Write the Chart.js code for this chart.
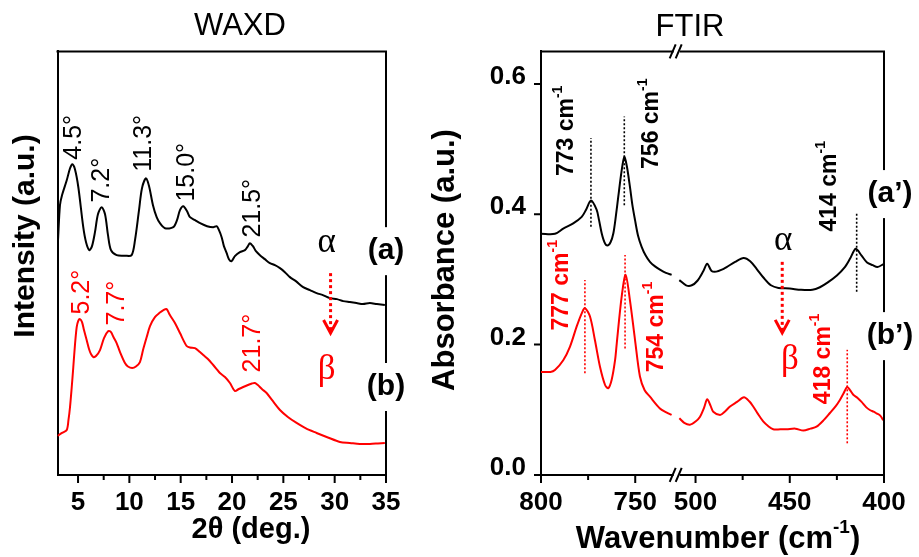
<!DOCTYPE html>
<html><head><meta charset="utf-8">
<script src="https://cdn.jsdelivr.net/npm/chart.js@4.4.0/dist/chart.umd.min.js"></script>
<style>
html,body{margin:0;padding:0;background:#fff;width:919px;height:557px;overflow:hidden}
#cL{position:absolute;left:0;top:0}
#cR{position:absolute;left:415px;top:0}
</style></head><body>
<canvas id="cL" width="470" height="557"></canvas>
<canvas id="cR" width="504" height="557"></canvas>
<script>
// ---------------- WAXD data ----------------
const waxdAngleA = [3.05,3.24,3.44,3.90,4.22,4.44,4.70,5.03,5.51,5.78,6.10,6.36,6.65,6.94,7.30,7.63,7.92,8.21,8.76,9.57,10.22,10.55,10.94,11.23,11.62,11.92,12.30,12.66,12.98,13.47,14.28,14.64,14.93,15.25,15.62,15.91,16.40,16.89,17.57,18.17,18.50,18.73,18.99,19.21,19.48,19.70,19.96,20.28,20.77,21.26,21.55,21.74,22.04,22.33,22.72,23.20,23.69,24.18,24.67,25.15,25.64,26.22,26.93,27.59,28.24,28.85,29.54,30.22,30.83,31.48,32.13,32.75,33.43,34.11,34.89];
const waxdIntA = [235,270,280,295,307,311,306,288,248,233,225,229,243,261,268,261,240,225,220,219.5,220,235,265,287,297,289,270,258,252,247,248,255,265,269,264,258,255,252,249,248,249,245,238,229,222,216,214,219,223,225,229,232,229,224,220,216,212,210,207,203,198,194,188,185,182,180,177,176,174,173,172,171,172,171,170];
const waxdAngleB = [3.00,3.44,3.90,4.07,4.22,4.38,4.54,4.70,4.87,5.03,5.19,5.39,5.58,5.84,6.07,6.26,6.49,6.75,7.14,7.53,7.95,8.21,8.45,8.76,9.09,9.57,9.86,10.28,10.64,11.03,11.33,11.69,12.01,12.49,12.98,13.32,13.63,13.95,14.44,14.93,15.58,15.90,16.39,16.88,17.20,17.65,18.17,18.50,18.82,19.31,19.80,20.28,20.67,21.09,21.55,21.94,22.23,22.52,22.91,23.37,23.89,24.67,25.44,26.29,27.20,28.24,29.34,30.51,31.48,32.45,33.43,34.21,34.89];
const waxdIntB = [39,42,45,55,68,87,108,130,148,154.5,156,153,145,135,126,121,118,119,125,137,144,143,138,132,123,112,108.5,107,108.5,113,125,138,149,158,162.5,165,166,160,152,142,129,127.5,127,123,120,116,110,106,102,98,92,84,86,88,90,91.5,92,90,86,82,75,65,58,52,46.5,42,37.5,33,32,31,31,31.5,32];
const waxdXTicks = [5,10,15,20,25,30,35];
const waxdXMinor = [7.5,12.5,17.5,22.5,27.5,32.5];
const waxdPeakTextA = ['4.5°','7.2°','11.3°','15.0°','21.5°'];
const waxdPeakAtA = [[4.64,338],[7.30,295],[11.45,332],[15.58,303],[22.07,267]];
const waxdPeakTextB = ['5.2°','7.7°','21.7°'];
const waxdPeakAtB = [[5.36,183],[8.76,172],[22.07,132]];

// ---------------- FTIR data (broken axis 800-728 | 510-400) ----------------
const ftirWaveA_hi = [800,792.6,788.2,782.9,778.4,776.1,773.5,770.5,769.2,767.8,766.3,764.8,763.1,761.6,760.2,759.0,757.3,755.8,754.4,752.8,751.5,750.1,748.5,746.6,744.6,742.2,739.5,736.9,733.7,730.7];
const ftirAbsA_hi  = [0.370,0.370,0.378,0.386,0.396,0.407,0.421,0.407,0.391,0.371,0.357,0.352,0.357,0.371,0.399,0.427,0.465,0.488,0.473,0.442,0.414,0.391,0.367,0.350,0.3375,0.327,0.320,0.315,0.310,0.307];
const ftirWaveA_lo = [508.6,505,502,499,496,493.8,491.5,489,486,483.5,479,474.5,471,467.5,464,460,456,450,444,438,434,430,425,421,418,415,412,409,406,403.5,400];
const ftirAbsA_lo  = [0.299,0.291,0.291,0.298,0.312,0.324,0.313,0.312,0.315,0.319,0.327,0.333,0.328,0.316,0.303,0.291,0.287,0.286,0.284,0.284,0.288,0.295,0.306,0.318,0.332,0.347,0.337,0.326,0.322,0.319,0.324];
const ftirWaveB_hi = [800,795,792.6,788.2,784.6,781.1,778.4,776.7,774,771.4,768.7,766,764.3,762.5,760.7,759.8,757.2,755.1,752.8,750.1,747.5,745,742.2,736.9,733.5,730.7];
const ftirAbsB_hi  = [0.158,0.158,0.161,0.176,0.197,0.2275,0.248,0.256,0.243,0.207,0.166,0.138,0.133,0.146,0.176,0.202,0.2735,0.307,0.268,0.207,0.151,0.130,0.120,0.102,0.096,0.092];
const ftirWaveB_lo = [508.6,506,503,500,497.7,495.5,493.8,492,490.6,487,484.5,481.7,478,474.3,471.5,469.4,467,464.1,461.5,458.8,455,451.7,447,442.8,439,435.8,432,428.7,425.5,423.4,421.5,419.5,418,416.3,414,411.9,409.5,407.5,405.5,404,402,400.4];
const ftirAbsB_lo  = [0.087,0.080,0.077,0.082,0.089,0.103,0.116,0.106,0.097,0.092,0.097,0.105,0.112,0.119,0.113,0.105,0.094,0.082,0.075,0.070,0.070,0.070,0.071,0.068,0.071,0.074,0.084,0.095,0.106,0.115,0.125,0.135,0.130,0.123,0.118,0.112,0.104,0.0996,0.097,0.0945,0.091,0.084];
const ftirXTicks = [800,750,500,450,400];
const ftirXMinor = [775,475,425];
const ftirYTicks = [0.0,0.2,0.4,0.6];
// peak marks: [wavenumber, from, to], label text, label anchor
const ftirPeakA = [[773.5,0.381,0.517],[755.8,0.414,0.550],[414.5,0.281,0.404]];
const ftirPeakTextA = ['773 cm','756 cm','414 cm'];
const ftirPeakAtA = [[786.4,0.528],[741.3,0.539],[428.7,0.443]];
const ftirPeakB = [[776.7,0.156,0.299],[755.4,0.194,0.3375],[419.5,0.0485,0.192]];
const ftirPeakTextB = ['777 cm','754 cm','418 cm'];
const ftirPeakAtB = [[789,0.291],[738.6,0.227],[432.2,0.178]];

const HI_MAX = 800, HI_MIN = 728, LO_MAX = 510, LO_MIN = 400;
function brokenPos(w){ return w >= HI_MIN ? HI_MAX - w : (HI_MAX - HI_MIN) + (LO_MAX - w); }

// ---------------- styling ----------------
const SANS = '"Liberation Sans", Arial, Helvetica, sans-serif';
const SERIF = '"Liberation Serif", "Times New Roman", serif';
const RED = '#ff0000';
const TOP = 51.4, BOTTOM = 474.9, H = 557;

function line(ctx, x1, y1, x2, y2){ ctx.moveTo(x1,y1); ctx.lineTo(x2,y2); }
function rotText(ctx, x, y, main, sup, size, weight, color){
  ctx.save(); ctx.translate(x,y); ctx.rotate(-Math.PI/2);
  ctx.fillStyle = color; ctx.textBaseline = 'middle'; ctx.textAlign = 'left';
  ctx.font = weight+' '+size+'px '+SANS; const w1 = ctx.measureText(main).width;
  let w2 = 0; const ss = Math.round(size*0.62);
  if (sup){ ctx.font = weight+' '+ss+'px '+SANS; w2 = ctx.measureText(sup).width; }
  const s = -(w1+w2)/2;
  ctx.font = weight+' '+size+'px '+SANS; ctx.fillText(main, s, 0);
  if (sup){ ctx.font = weight+' '+ss+'px '+SANS; ctx.fillText(sup, s+w1, -size*0.36); }
  ctx.restore();
}
function hText(ctx, x, y, main, sup, font, supFont, supRise, color){
  ctx.save(); ctx.fillStyle = color; ctx.textBaseline = 'middle'; ctx.textAlign = 'left';
  ctx.font = font; const w1 = ctx.measureText(main).width;
  let w2 = 0; if (sup){ ctx.font = supFont; w2 = ctx.measureText(sup).width; }
  ctx.font = font; const ew = sup ? ctx.measureText(')').width : 0;
  const s = x - (w1+w2+ew)/2;
  ctx.fillText(main, s, y);
  if (sup){ ctx.font = supFont; ctx.fillText(sup, s+w1, y-supRise); ctx.font = font; ctx.fillText(')', s+w1+w2, y); }
  ctx.restore();
}
function dotted(ctx, x, y1, y2, color){
  ctx.save(); ctx.strokeStyle = color; ctx.lineWidth = 1.6; ctx.setLineDash([2,2]);
  ctx.beginPath(); line(ctx, x, y1, x, y2); ctx.stroke(); ctx.restore();
}
function arrow(ctx, x, y1, y2){
  ctx.save(); ctx.strokeStyle = RED; ctx.lineWidth = 3; ctx.setLineDash([3,3]);
  ctx.beginPath(); line(ctx, x, y1, x, y2-2); ctx.stroke();
  ctx.setLineDash([]); ctx.lineWidth = 3;
  ctx.beginPath(); ctx.moveTo(x-7, y2-13); ctx.lineTo(x, y2); ctx.lineTo(x+7, y2-13); ctx.stroke();
  ctx.restore();
}
function boxLabel(ctx, x, y, text){
  ctx.save(); ctx.font = 'bold 30px '+SANS;
  const w = ctx.measureText(text).width;
  ctx.fillStyle = '#fff'; ctx.fillRect(x-w/2-2, y-24, w+4, 48);
  ctx.fillStyle = '#000'; ctx.textAlign = 'center'; ctx.textBaseline = 'middle';
  ctx.fillText(text, x, y); ctx.restore();
}
function greek(ctx, x, y, ch, color){
  ctx.save(); ctx.font = '35px '+SERIF; ctx.fillStyle = color; ctx.textAlign='center'; ctx.textBaseline='middle';
  ctx.fillText(ch, x, y); ctx.restore();
}

// ---------------- left panel: WAXD ----------------
const waxdPlugin = {
  id: 'waxdDecor',
  afterDraw(chart){
    const {ctx, chartArea:a, scales:{x, y}} = chart;
    ctx.save();
    ctx.strokeStyle = '#000'; ctx.lineWidth = 2;
    ctx.beginPath(); ctx.moveTo(a.left-1, a.top); ctx.lineTo(a.right, a.top); ctx.lineTo(a.right, a.bottom+1); ctx.stroke();
    ctx.beginPath();
    waxdXTicks.forEach(v => { const p = x.getPixelForValue(v); line(ctx, p, a.bottom, p, a.bottom+8); });
    waxdXMinor.forEach(v => { const p = x.getPixelForValue(v); line(ctx, p, a.bottom, p, a.bottom+5); });
    ctx.stroke();
    waxdPeakTextA.forEach((t,i) => rotText(ctx, x.getPixelForValue(waxdPeakAtA[i][0]), y.getPixelForValue(waxdPeakAtA[i][1]), t, '', 25, 'normal', '#000'));
    waxdPeakTextB.forEach((t,i) => rotText(ctx, x.getPixelForValue(waxdPeakAtB[i][0]), y.getPixelForValue(waxdPeakAtB[i][1]), t, '', 25, 'normal', RED));
    greek(ctx, x.getPixelForValue(29.21), y.getPixelForValue(232), 'α', '#000');
    greek(ctx, x.getPixelForValue(29.21), y.getPixelForValue(105), 'β', RED);
    arrow(ctx, x.getPixelForValue(29.6), y.getPixelForValue(202), y.getPixelForValue(142));
    boxLabel(ctx, a.right, y.getPixelForValue(224), '(a)');
    boxLabel(ctx, a.right, y.getPixelForValue(88), '(b)');
    // titles
    ctx.fillStyle = '#000'; ctx.textAlign = 'center'; ctx.textBaseline = 'middle';
    ctx.font = '31px '+SANS; ctx.fillText('WAXD', 240, 26);
    ctx.font = 'bold 29px '+SANS; ctx.fillText('2θ (deg.)', 251, 530);
    ctx.font = 'bold 30px '+SANS;
    ctx.save(); ctx.translate(26, 236); ctx.rotate(-Math.PI/2); ctx.fillText('Intensity (a.u.)', 0, 0); ctx.restore();
    ctx.restore();
  }
};

new Chart(document.getElementById('cL'), {
  type: 'line',
  data: { datasets: [
    { label: 'α (a)', data: waxdAngleA.map((v,i)=>({x:v, y:waxdIntA[i]})), borderColor:'#000', borderWidth:2, pointRadius:0, tension:0.3 },
    { label: 'β (b)', data: waxdAngleB.map((v,i)=>({x:v, y:waxdIntB[i]})), borderColor:RED, borderWidth:2, pointRadius:0, tension:0.3 }
  ]},
  options: {
    responsive:false, animation:false,
    layout:{ padding:{ top:TOP, right:84, left:0, bottom:0 } },
    plugins:{ legend:{display:false}, tooltip:{enabled:false} },
    scales:{
      x:{ type:'linear', min:3, max:35,
          afterBuildTicks: s => { s.ticks = waxdXTicks.map(v=>({value:v})); },
          afterFit: s => { s.height = H - BOTTOM; },
          grid:{display:false, drawTicks:false}, border:{display:true, color:'#000', width:2},
          ticks:{ padding:12, color:'#000', maxRotation:0, autoSkip:false, font:{family:SANS, size:26, weight:'bold'}, callback:v=>String(v) } },
      y:{ type:'linear', min:0, max:424,
          afterFit: s => { s.width = 57.5; },
          grid:{display:false, drawTicks:false}, border:{display:true, color:'#000', width:2},
          ticks:{ display:false } }
    }
  },
  plugins:[waxdPlugin]
});

// ---------------- right panel: FTIR ----------------
function ftirData(wHi, aHi, wLo, aLo){
  return wHi.map((w,i)=>({x:brokenPos(w), y:aHi[i]}))
    .concat([{x:brokenPos(HI_MIN)+0.01, y:null}])
    .concat(wLo.map((w,i)=>({x:brokenPos(w), y:aLo[i]})));
}
const ftirPlugin = {
  id: 'ftirDecor',
  afterDraw(chart){
    const {ctx, chartArea:a, scales:{x, y}} = chart;
    const X = w => x.getPixelForValue(brokenPos(w));
    ctx.save();
    ctx.strokeStyle = '#000'; ctx.lineWidth = 2;
    ctx.beginPath(); ctx.moveTo(a.left-1, a.top); ctx.lineTo(a.right, a.top); ctx.lineTo(a.right, a.bottom+1); ctx.stroke();
    ctx.beginPath();
    ftirXTicks.forEach(w => { const p = X(w); line(ctx, p, a.bottom, p, a.bottom+8); });
    ftirXMinor.forEach(w => { const p = X(w); line(ctx, p, a.bottom, p, a.bottom+5); });
    ftirYTicks.forEach(v => { const p = y.getPixelForValue(v); line(ctx, a.left, p, a.left-7, p); });
    ctx.stroke();
    // axis break marks
    const bx = x.getPixelForValue(brokenPos(HI_MIN));
    [a.top, a.bottom].forEach(by => {
      ctx.fillStyle = '#fff'; ctx.fillRect(bx-3, by-2, 6, 4);
      ctx.beginPath(); line(ctx, bx-7, by+7, bx-1, by-7); line(ctx, bx-1, by+7, bx+5, by-7); ctx.stroke();
    });
    ftirPeakA.forEach(p => dotted(ctx, X(p[0]), y.getPixelForValue(p[1]), y.getPixelForValue(p[2]), '#000'));
    ftirPeakB.forEach(p => dotted(ctx, X(p[0]), y.getPixelForValue(p[1]), y.getPixelForValue(p[2]), RED));
    ftirPeakTextA.forEach((t,i) => rotText(ctx, X(ftirPeakAtA[i][0]), y.getPixelForValue(ftirPeakAtA[i][1]), t, '-1', 23, 'bold', '#000'));
    ftirPeakTextB.forEach((t,i) => rotText(ctx, X(ftirPeakAtB[i][0]), y.getPixelForValue(ftirPeakAtB[i][1]), t, '-1', 23, 'bold', RED));
    greek(ctx, X(453.5), y.getPixelForValue(0.360), 'α', '#000');
    greek(ctx, X(449.9), y.getPixelForValue(0.176), 'β', RED);
    arrow(ctx, X(454), y.getPixelForValue(0.327), y.getPixelForValue(0.218));
    boxLabel(ctx, a.right+6, y.getPixelForValue(0.431), '(a’)');
    boxLabel(ctx, a.right+6, y.getPixelForValue(0.213), '(b’)');
    // titles
    ctx.fillStyle = '#000'; ctx.textAlign = 'center'; ctx.textBaseline = 'middle';
    ctx.font = '31px '+SANS; ctx.fillText('FTIR', 690-415, 27);
    hText(ctx, 718-415, 539, 'Wavenumber (cm', '-1', 'bold 31px '+SANS, 'bold 19px '+SANS, 11, '#000');
    ctx.font = 'bold 31px '+SANS;
    ctx.save(); ctx.translate(445-415, 260); ctx.rotate(-Math.PI/2); ctx.fillText('Absorbance (a.u.)', 0, 0); ctx.restore();
    ctx.restore();
  }
};
const ftirTickLabel = new Map(ftirXTicks.map(w => [brokenPos(w), String(w)]));

new Chart(document.getElementById('cR'), {
  type: 'line',
  data: { datasets: [
    { label: "α (a')", data: ftirData(ftirWaveA_hi, ftirAbsA_hi, ftirWaveA_lo, ftirAbsA_lo), borderColor:'#000', borderWidth:2, pointRadius:0, tension:0.3, spanGaps:false },
    { label: "β (b')", data: ftirData(ftirWaveB_hi, ftirAbsB_hi, ftirWaveB_lo, ftirAbsB_lo), borderColor:RED, borderWidth:2, pointRadius:0, tension:0.3, spanGaps:false }
  ]},
  options: {
    responsive:false, animation:false,
    layout:{ padding:{ top:TOP, right:35, left:0, bottom:0 } },
    plugins:{ legend:{display:false}, tooltip:{enabled:false} },
    scales:{
      x:{ type:'linear', min:0, max:brokenPos(LO_MIN),
          afterBuildTicks: s => { s.ticks = ftirXTicks.map(w=>({value:brokenPos(w)})); },
          afterFit: s => { s.height = H - BOTTOM; },
          grid:{display:false, drawTicks:false}, border:{display:true, color:'#000', width:2},
          ticks:{ padding:12, color:'#000', maxRotation:0, autoSkip:false, font:{family:SANS, size:26, weight:'bold'}, callback:v=>ftirTickLabel.get(v) ?? '' } },
      y:{ type:'linear', min:0, max:0.65,
          afterBuildTicks: s => { s.ticks = ftirYTicks.map(v=>({value:v})); },
          afterFit: s => { s.width = 126; },
          grid:{display:false, drawTicks:false}, border:{display:true, color:'#000', width:2},
          ticks:{ padding:15, labelOffset:-7, color:'#000', font:{family:SANS, size:26, weight:'bold'}, callback:v=>v.toFixed(1) } }
    }
  },
  plugins:[ftirPlugin]
});
</script>
</body></html>
